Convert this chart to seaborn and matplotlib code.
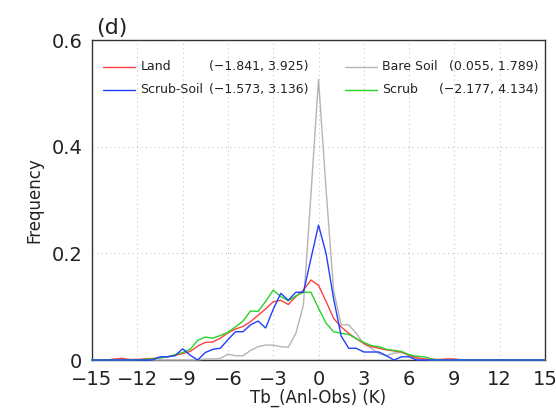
import matplotlib
matplotlib.use("Agg")
import matplotlib.pyplot as plt
import seaborn as sns
import pandas as pd

# Bin centres of the brightness-temperature departure (K)
tb_bins = [-15, -14.5, -14, -13.5, -13, -12.5, -12, -11.5, -11, -10.5,
           -10, -9.5, -9, -8.5, -8, -7.5, -7, -6.5, -6, -5.5,
           -5, -4.5, -4, -3.5, -3, -2.5, -2, -1.5, -1, -0.5,
           0, 0.5, 1, 1.5, 2, 2.5, 3, 3.5, 4, 4.5,
           5, 5.5, 6, 6.5, 7, 7.5, 8, 8.5, 9, 9.5,
           10, 10.5, 11, 11.5, 12, 12.5, 13, 13.5, 14, 14.5, 15]

freq_land = [0, 0, 0, 0.002, 0.003, 0.001, 0.001, 0.002, 0.003, 0.004,
             0.006, 0.009, 0.012, 0.016, 0.026, 0.033, 0.034, 0.041, 0.051, 0.058,
             0.063, 0.072, 0.084, 0.096, 0.109, 0.112, 0.104, 0.119, 0.131, 0.150,
             0.140, 0.110, 0.078, 0.062, 0.050, 0.040, 0.031, 0.025, 0.022, 0.019,
             0.017, 0.015, 0.009, 0.004, 0.002, 0.001, 0.001, 0.002, 0.002, 0,
             0, 0, 0, 0, 0, 0, 0, 0, 0, 0, 0]

freq_bare = [0, 0, 0, 0, 0, 0, 0.001, 0.001, 0, 0,
             0, 0, 0, 0, 0, 0.002, 0.002, 0.003, 0.011, 0.008,
             0.008, 0.018, 0.025, 0.028, 0.028, 0.025, 0.024, 0.050, 0.103, 0.310,
             0.526, 0.320, 0.130, 0.066, 0.066, 0.050, 0.030, 0.022, 0.012, 0.008,
             0.013, 0.014, 0.008, 0.003, 0.001, 0, 0, 0, 0, 0,
             0, 0, 0, 0, 0, 0, 0, 0, 0, 0, 0]

freq_scrub = [0, 0, 0, 0, 0, 0, 0, 0.001, 0.002, 0.004,
              0.006, 0.010, 0.014, 0.020, 0.037, 0.043, 0.041, 0.046, 0.052, 0.062,
              0.073, 0.092, 0.091, 0.110, 0.131, 0.119, 0.111, 0.120, 0.127, 0.127,
              0.097, 0.069, 0.053, 0.050, 0.048, 0.040, 0.033, 0.027, 0.025, 0.020,
              0.018, 0.016, 0.010, 0.007, 0.006, 0.002, 0, 0, 0, 0,
              0, 0, 0, 0, 0, 0, 0, 0, 0, 0, 0]

freq_scrub_soil = [0, 0, 0, 0, 0, 0, 0, 0, 0, 0.006,
                   0.006, 0.008, 0.021, 0.009, 0.0, 0.014, 0.020, 0.022, 0.038, 0.053,
                   0.053, 0.066, 0.073, 0.060, 0.095, 0.125, 0.112, 0.127, 0.127, 0.190,
                   0.253, 0.200, 0.115, 0.045, 0.022, 0.022, 0.015, 0.015, 0.015, 0.008,
                   0.0, 0.006, 0.006, 0, 0, 0, 0, 0, 0, 0,
                   0, 0, 0, 0, 0, 0, 0, 0, 0, 0, 0]

series_names = ["Bare Soil", "Land", "Scrub", "Scrub-Soil"]
series_stats = {"Land": "(\u22121.841, 3.925)",
                "Scrub-Soil": "(\u22121.573, 3.136)",
                "Bare Soil": "(0.055, 1.789)",
                "Scrub": "(\u22122.177, 4.134)"}
palette = {"Land": "#ff4040", "Scrub-Soil": "#2040ff",
           "Bare Soil": "#b4b4b4", "Scrub": "#28d228"}

x_ticks = [-15, -12, -9, -6, -3, 0, 3, 6, 9, 12, 15]
y_ticks = [0, 0.2, 0.4, 0.6]
y_ticklabels = ["0", "0.2", "0.4", "0.6"]

values = {"Land": freq_land, "Bare Soil": freq_bare,
          "Scrub": freq_scrub, "Scrub-Soil": freq_scrub_soil}
df = pd.concat([pd.DataFrame({"tb": tb_bins, "freq": values[n], "surface": n})
                for n in series_names], ignore_index=True)

sns.set_style("white")
plt.rcParams["font.family"] = ["DejaVu Sans"]

fig = plt.figure(figsize=(5.56, 4.09), dpi=100)
ax = fig.add_axes([0.1655, 0.1198, 0.8147, 0.7824])

sns.lineplot(data=df, x="tb", y="freq", hue="surface", hue_order=series_names,
             palette=palette, linewidth=1.0, legend=False, ax=ax)
# curves sit on top of the frame, so the zero tails show along the bottom edge
for ln in ax.get_lines():
    ln.set_zorder(3)
    ln.set_clip_on(False)

ax.set_xlim(-15, 15)
ax.set_ylim(0, 0.6)
ax.set_xticks(x_ticks)
ax.set_xticklabels([str(t).replace("-", "\u2212") for t in x_ticks])
ax.set_yticks(y_ticks)
ax.set_yticklabels(y_ticklabels)
ax.tick_params(axis="both", direction="out", length=5, width=1,
               labelsize=14, colors="#222222", pad=2)
ax.grid(True, linestyle=(0, (1, 3)), color="#c8c8c8", linewidth=0.8)
for s in ax.spines.values():
    s.set_visible(True)
    s.set_color("#333333")
    s.set_linewidth(1.0)
    s.set_zorder(2.5)

ax.set_xlabel("Tb_(Anl-Obs) (K)", fontsize=12, labelpad=0, color="#222222")
ax.set_ylabel("Frequency", fontsize=12, labelpad=6, color="#222222")

ax.text(0.008, 1.005, "(d)", transform=ax.transAxes, fontsize=16,
        ha="left", va="bottom", color="#222222")

# Two-column key with the (mean, std) of each surface type
key_rows = [("Land", 0.024, 0.916, 0.477), ("Scrub-Soil", 0.024, 0.845, 0.477),
            ("Bare Soil", 0.558, 0.916, 0.985), ("Scrub", 0.558, 0.845, 0.985)]
for name, x0, y0, xr in key_rows:
    ax.plot([x0, x0 + 0.071], [y0, y0], transform=ax.transAxes,
            color=palette[name], linewidth=1.0)
    ax.text(x0 + 0.083, y0, name, transform=ax.transAxes, fontsize=9,
            ha="left", va="center", color="#222222")
    ax.text(xr, y0, series_stats[name], transform=ax.transAxes, fontsize=9,
            ha="right", va="center", color="#222222")

fig.savefig("out.png", dpi=100)
